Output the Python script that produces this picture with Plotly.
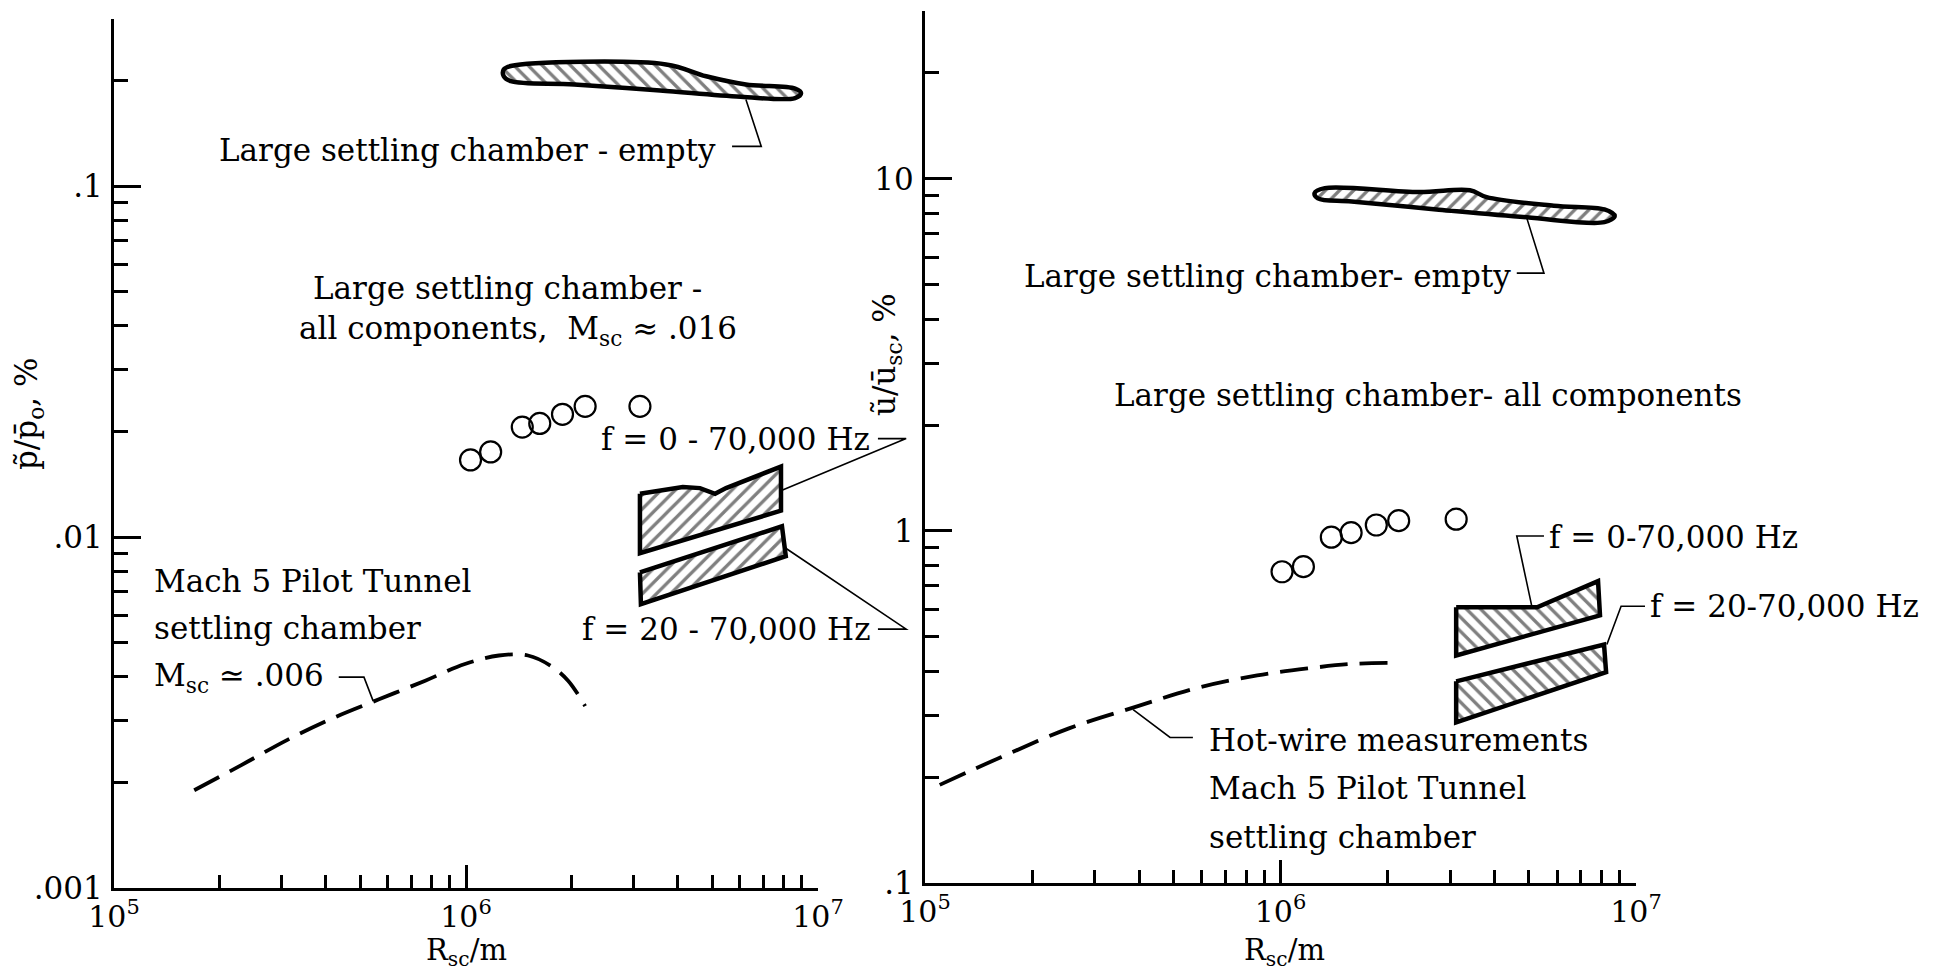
import math
import plotly.graph_objects as go

FONT = "DejaVu Serif"
# page coordinates of the reference (1934x980); the figure sits inside the
# default 8px page margin, so it is 1918x964 and page px are shifted by 8.
PAGE_OFF = 8
W, H = 1934 - 2 * PAGE_OFF, 980 - 2 * PAGE_OFF

# ---------------- data: left panel (pressure fluctuations) ----------------
p_circ_x = [1.03e6, 1.175e6, 1.445e6, 1.62e6, 1.88e6, 2.18e6, 3.12e6]
p_circ_y = [0.0166, 0.0175, 0.0206, 0.0211, 0.0224, 0.0236, 0.0236]

p_empty_x = [1.28e6, 1.34e6, 3.70e6, 4.81e6, 6.24e6, 8.61e6, 8.95e6, 8.61e6, 6.03e6, 3.56e6, 2.03e6, 1.34e6, 1.28e6]
p_empty_y = [0.2153, 0.2203, 0.2227, 0.206, 0.1953, 0.190, 0.1845, 0.1786, 0.180, 0.1876, 0.1953, 0.1995, 0.206]

p_f0_x = [3.12e6, 3.56e6, 4.13e6, 4.62e6, 5.1e6, 5.48e6, 7.85e6, 7.85e6, 3.12e6]
p_f0_y = [0.0133, 0.0136, 0.0139, 0.0138, 0.0133, 0.0138, 0.0159, 0.0119, 0.0090]

p_f20_x = [3.12e6, 7.9e6, 8.1e6, 3.14e6]
p_f20_y = [0.00794, 0.01074, 0.00883, 0.00644]

p_pilot_x = [1.69e5, 2.3e5, 3.1e5, 4.19e5, 5.66e5, 7.66e5, 9.93e5, 1.24e6, 1.5e6, 1.74e6, 1.95e6, 2.18e6]
p_pilot_y = [0.0019, 0.00224, 0.00264, 0.00305, 0.00345, 0.0039, 0.00435, 0.0046, 0.0046, 0.0043, 0.0039, 0.0033]

# ---------------- data: right panel (velocity fluctuations) ----------------
u_circ_x = [1.01e6, 1.16e6, 1.39e6, 1.58e6, 1.86e6, 2.15e6, 3.12e6]
u_circ_y = [0.766, 0.792, 0.96, 0.989, 1.04, 1.07, 1.08]

u_empty_x = [1.247e6, 1.333e6, 2.455e6, 3.41e6, 3.80e6, 5.87e6, 8.15e6, 8.71e6, 8.15e6, 4.93e6, 2.79e6, 1.585e6, 1.274e6]
u_empty_y = [9.12, 9.42, 9.18, 9.29, 8.88, 8.39, 8.19, 7.85, 7.54, 7.78, 8.18, 8.63, 8.81]

u_f0_x = [3.12e6, 5.27e6, 7.82e6, 7.92e6, 3.12e6]
u_f0_y = [0.607, 0.607, 0.72, 0.576, 0.443]

u_f20_x = [3.12e6, 8.13e6, 8.24e6, 3.12e6]
u_f20_y = [0.374, 0.476, 0.397, 0.286]

u_hw_x = [1.1e5, 1.64e5, 2.54e5, 3.93e5, 5.82e5, 8.6e5, 1.22e6, 1.58e6, 2.02e6]
u_hw_y = [0.190, 0.228, 0.275, 0.317, 0.358, 0.389, 0.408, 0.419, 0.422]

# ---------------- ticks ----------------
x_major = [1e5, 1e6, 1e7]
x_major_text = ["10<sup>5</sup>", "10<sup>6</sup>", "10<sup>7</sup>"]
x_minor = [m * 10 ** d for d in (5, 6) for m in range(2, 10)]

p_major = [0.001, 0.01, 0.1, 0.3]
p_major_text = [".001", ".01", ".1", " "]
p_minor = [m * 10 ** d for d in (-3, -2) for m in range(2, 10)] + [0.2]

u_major = [0.1, 1, 10, 30]
u_major_text = [".1", "1", "10", " "]
u_minor = [m * 10 ** d for d in (-1, 0) for m in range(2, 10)] + [20]

# ---------------- layout geometry ----------------
L = math.log10
X_RANGE = [5, 7]
P_RANGE = [-3, L(0.3)]
U_RANGE = [-1, L(30)]


def fx(px):  # page px -> paper x
    return (px - PAGE_OFF) / W


def fy(py):  # page px -> paper y
    return 1 - (py - PAGE_OFF) / H


PANELS = {
    "L": dict(xd=[fx(114), fx(818)], yd=[fy(888), fy(19)], yr=P_RANGE),
    "R": dict(xd=[fx(925), fx(1636)], yd=[fy(883), fy(11)], yr=U_RANGE),
}


def to_paper(x, y, panel):
    p = PANELS[panel]
    ax = (L(x) - X_RANGE[0]) / (X_RANGE[1] - X_RANGE[0])
    ay = (L(y) - p["yr"][0]) / (p["yr"][1] - p["yr"][0])
    return (p["xd"][0] + ax * (p["xd"][1] - p["xd"][0]),
            p["yd"][0] + ay * (p["yd"][1] - p["yd"][0]))


fig = go.Figure()


def poly(x, y, xa, ya, shape, spline=False):
    fig.add_trace(go.Scatter(
        x=list(x) + [x[0]], y=list(y) + [y[0]], xaxis=xa, yaxis=ya,
        mode="lines", fill="toself",
        fillpattern=dict(shape=shape, fgcolor="black", bgcolor="white", size=10, solidity=0.33),
        line=dict(color="black", width=4.5, shape="spline" if spline else "linear"),
        hoverinfo="skip", showlegend=False))


def circles(x, y, xa, ya):
    fig.add_trace(go.Scatter(
        x=x, y=y, xaxis=xa, yaxis=ya, mode="markers",
        marker=dict(symbol="circle-open", size=21, color="black", line=dict(width=2.2, color="black")),
        hoverinfo="skip", showlegend=False))


def dashed(x, y, xa, ya):
    fig.add_trace(go.Scatter(
        x=x, y=y, xaxis=xa, yaxis=ya, mode="lines",
        line=dict(color="black", width=3.8, dash="28px,12px", shape="spline"),
        hoverinfo="skip", showlegend=False))


# left panel
poly(p_empty_x, p_empty_y, "x", "y", "\\", spline=True)
poly(p_f0_x, p_f0_y, "x", "y", "/")
poly(p_f20_x, p_f20_y, "x", "y", "/")
circles(p_circ_x, p_circ_y, "x", "y")
dashed(p_pilot_x, p_pilot_y, "x", "y")

# right panel
poly(u_empty_x, u_empty_y, "x2", "y2", "/", spline=True)
poly(u_f0_x, u_f0_y, "x2", "y2", "\\")
poly(u_f20_x, u_f20_y, "x2", "y2", "\\")
circles(u_circ_x, u_circ_y, "x2", "y2")
dashed(u_hw_x, u_hw_y, "x2", "y2")

annots = []
shapes = []
TS = 31


def txt(text, x, y, panel, xanchor="left", size=TS):
    px, py = to_paper(x, y, panel)
    annots.append(dict(text=text, x=px, y=py, xref="paper", yref="paper", xanchor=xanchor,
                       yanchor="middle", showarrow=False,
                       font=dict(family=FONT, size=size, color="black")))


def leader(pts, panel):
    pp = [to_paper(x, y, panel) for x, y in pts]
    path = "M " + " L ".join(f"{a:.5f},{b:.5f}" for a, b in pp)
    shapes.append(dict(type="path", path=path, xref="paper", yref="paper",
                       line=dict(color="black", width=1.6)))


# left panel labels
txt("Large settling chamber - empty", 5.2e6, 0.1268, "L", "right")
leader([(5.7e6, 0.13), (6.9e6, 0.13), (6.24e6, 0.177)], "L")
txt("Large settling chamber -", 1.316e6, 0.0512, "L", "center")
txt("all components,  M<sub>sc</sub> \u2248 .016", 1.406e6, 0.0389, "L", "center")
txt("f = 0 - 70,000 Hz", 1.42e7, 0.0191, "L", "right")
leader([(1.48e7, 0.0191), (1.78e7, 0.0191), (7.9e6, 0.0136)], "L")
txt("f = 20 - 70,000 Hz", 1.42e7, 0.00547, "L", "right")
leader([(1.48e7, 0.00547), (1.78e7, 0.00547), (8.1e6, 0.0093)], "L")
txt("Mach 5 Pilot Tunnel", 1.28e5, 0.0075, "L")
txt("settling chamber", 1.28e5, 0.0055, "L")
txt("M<sub>sc</sub> \u2243 .006", 1.28e5, 0.00399, "L")
leader([(4.35e5, 0.00399), (5.13e5, 0.00399), (5.45e5, 0.00341)], "L")

# right panel labels
txt("Large settling chamber- empty", 4.51e6, 5.30, "R", "right")
leader([(4.62e6, 5.4), (5.51e6, 5.4), (4.93e6, 7.74)], "R")
txt("Large settling chamber- all components", 2.6e6, 2.43, "R", "center")
txt("f = 0-70,000 Hz", 5.62e6, 0.962, "R")
leader([(5.51e6, 0.968), (4.62e6, 0.968), (5.1e6, 0.607)], "R")
txt("f = 20-70,000 Hz", 1.08e7, 0.611, "R")
leader([(1.06e7, 0.611), (9.08e6, 0.611), (8.28e6, 0.476)], "R")
txt("Hot-wire measurements", 6.21e5, 0.255, "R")
txt("Mach 5 Pilot Tunnel", 6.21e5, 0.1866, "R")
txt("settling chamber", 6.21e5, 0.135, "R")
leader([(5.67e5, 0.259), (4.89e5, 0.259), (3.85e5, 0.311)], "R")


# axis titles
def ptxt(text, px, py, angle=0, size=31, yanchor="middle"):
    annots.append(dict(text=text, x=fx(px), y=fy(py), xref="paper", yref="paper",
                       xanchor="center", yanchor=yanchor, showarrow=False, textangle=angle,
                       borderpad=0, font=dict(family=FONT, size=size, color="black")))


ptxt("p\u0303/p\u0304<sub>o</sub>, %", 28, 414, -90)
ptxt("\u0169/\u016b<sub>sc</sub>, %", 886, 355, -90)
ptxt("R<sub>sc</sub>/m", 466, 972, size=29, yanchor="bottom")
ptxt("R<sub>sc</sub>/m", 1284, 972, size=29, yanchor="bottom")


def xaxis(domain, anchor):
    return dict(type="log", range=X_RANGE, domain=domain, anchor=anchor, automargin=False,
                showline=True, linecolor="black", linewidth=3, mirror=False,
                ticks="inside", ticklen=23, tickwidth=2.5, tickcolor="black",
                tickmode="array", tickvals=x_major, ticktext=x_major_text,
                tickfont=dict(family=FONT, size=30, color="black"), ticklabelstandoff=0,
                minor=dict(tickmode="array", tickvals=x_minor, ticks="inside", ticklen=13,
                           tickwidth=2.5, tickcolor="black", showgrid=False),
                showgrid=False, zeroline=False, fixedrange=True)


def yaxis(domain, anchor, rng, vals, texts, minor):
    return dict(type="log", range=rng, domain=domain, anchor=anchor, automargin=False,
                showline=True, linecolor="black", linewidth=3, mirror=False,
                ticks="inside", ticklen=27, tickwidth=2.5, tickcolor="black",
                tickmode="array", tickvals=vals, ticktext=texts,
                tickfont=dict(family=FONT, size=31, color="black"), ticklabelstandoff=2,
                minor=dict(tickmode="array", tickvals=minor, ticks="inside", ticklen=14,
                           tickwidth=2.5, tickcolor="black", showgrid=False),
                showgrid=False, zeroline=False, fixedrange=True)


fig.update_layout(
    width=W, height=H, autosize=False,
    margin=dict(l=0, r=0, t=0, b=0, pad=0, autoexpand=False),
    paper_bgcolor="white", plot_bgcolor="white", showlegend=False,
    xaxis=xaxis(PANELS["L"]["xd"], "y"),
    yaxis=yaxis(PANELS["L"]["yd"], "x", P_RANGE, p_major, p_major_text, p_minor),
    xaxis2=xaxis(PANELS["R"]["xd"], "y2"),
    yaxis2=yaxis(PANELS["R"]["yd"], "x2", U_RANGE, u_major, u_major_text, u_minor),
    annotations=annots,
    shapes=shapes,
)

fig.write_html("out.html")
